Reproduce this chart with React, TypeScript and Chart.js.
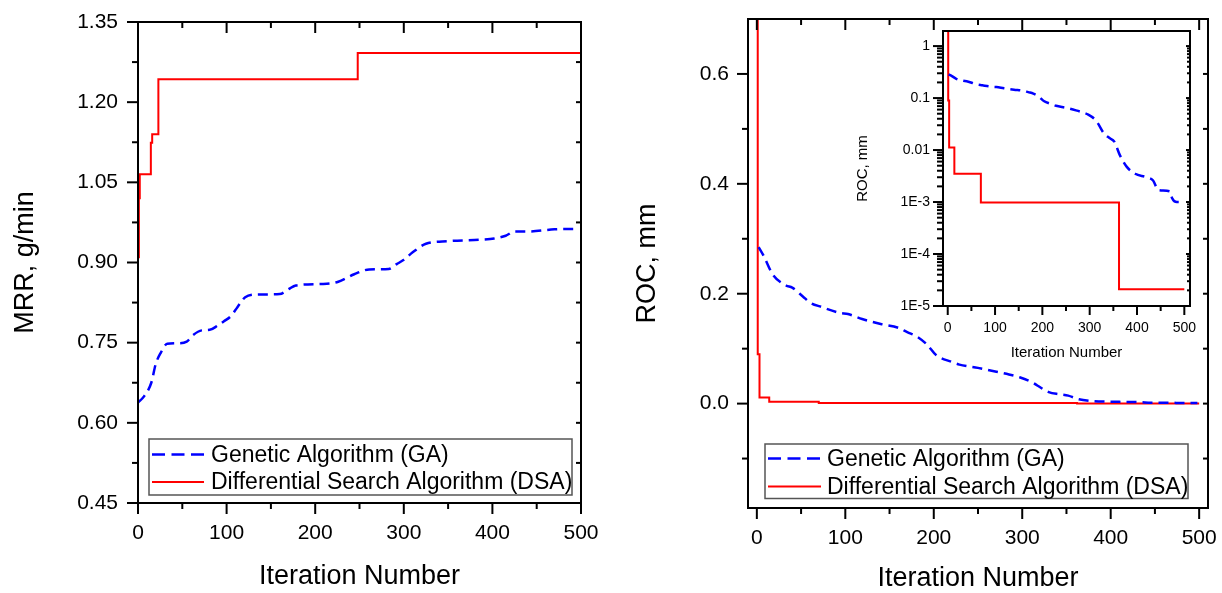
import React, { useEffect, useRef } from 'react';
import { Chart, registerables } from 'chart.js';

Chart.register(...registerables);

const FONT = "'Liberation Sans', Arial, Helvetica, sans-serif";

// ---------- data ----------
const seriesNames = ['Genetic Algorithm (GA)', 'Differential Search Algorithm (DSA)'];

const gaMrrIter = [0, 7, 15, 20, 26, 33, 45, 55, 62, 72, 81, 90, 97, 105, 112, 121, 134, 160, 170, 178, 209, 226, 244, 261, 283, 292, 300, 310, 325, 350, 390, 402, 415, 425, 440, 470, 495];
const gaMrrValue = [0.638, 0.65, 0.675, 0.71, 0.732, 0.748, 0.749, 0.752, 0.764, 0.773, 0.774, 0.782, 0.79, 0.8, 0.816, 0.835, 0.84, 0.841, 0.85, 0.857, 0.86, 0.864, 0.878, 0.887, 0.888, 0.897, 0.905, 0.919, 0.935, 0.94, 0.943, 0.945, 0.95, 0.958, 0.958, 0.962, 0.963];

const dsaMrrIter = [0, 1, 2, 14.5, 16, 23, 248, 500];
const dsaMrrValue = [0.91, 1.02, 1.065, 1.124, 1.14, 1.243, 1.292, 1.292];

const gaRocIter = [2, 8, 18, 33, 40, 52, 60, 73, 94, 103, 119, 140, 160, 170, 181, 192, 203, 220, 229, 250, 271, 285, 297, 311, 317, 330, 342, 352, 364, 378, 396, 420, 434, 445, 470, 474, 484, 498];
const gaRocValue = [0.285, 0.268, 0.235, 0.215, 0.211, 0.195, 0.184, 0.176, 0.165, 0.163, 0.154, 0.145, 0.138, 0.13, 0.122, 0.108, 0.088, 0.076, 0.071, 0.065, 0.058, 0.053, 0.048, 0.039, 0.033, 0.021, 0.017, 0.0145, 0.0079, 0.0048, 0.0035, 0.003, 0.0026, 0.0017, 0.0016, 0.0012, 0.001, 0.001];

const dsaRocIter = [0, 1, 3, 14, 70, 362, 500];
const dsaRocValue = [3, 0.09, 0.0112, 0.0035, 0.00098, 0.000021, 0.000021];

// ---------- tick labels ----------
const iterTicks = [0, 100, 200, 300, 400, 500];
const mrrTicks = [0.45, 0.6, 0.75, 0.9, 1.05, 1.2, 1.35];
const rocTicks = [0, 0.2, 0.4, 0.6];
const rocLogTicks = [1e-5, 1e-4, 1e-3, 0.01, 0.1, 1];
const rocLogLabels = ['1E-5', '1E-4', '1E-3', '0.01', '0.1', '1'];

// ---------- helpers ----------
const mids = (a: number[]) => a.slice(1).map((v, i) => (v + a[i]) / 2);
const iterMinor = mids(iterTicks);
const mrrMinor = mids(mrrTicks);
const rocMinor = [-0.1, 0.1, 0.3, 0.5];
const logMinor: number[] = [];
for (let k = -5; k <= 0; k++) for (let m = 2; m <= 9; m++) logMinor.push(m * Math.pow(10, k));

const pts = (xs: number[], ys: number[]) => xs.map((x, i) => ({ x, y: ys[i] }));

const fixW = (w: number) => (s: any) => {
  s.width = w; s.paddingTop = 0; s.paddingBottom = 0; s.paddingLeft = 0; s.paddingRight = 0;
};
const fixH = (h: number) => (s: any) => {
  s.height = h; s.paddingTop = 0; s.paddingBottom = 0; s.paddingLeft = 0; s.paddingRight = 0;
};
const setTicks = (vals: number[]) => (s: any) => { s.ticks = vals.map(v => ({ value: v })); };

const frameTicks = {
  id: 'frameTicks',
  beforeDraw(chart: any, _a: any, o: any) {
    if (!o || !o.white) return;
    const { ctx, chartArea: a } = chart;
    ctx.save();
    ctx.fillStyle = '#fff';
    ctx.fillRect(a.left, a.top, a.right - a.left, a.bottom - a.top);
    ctx.restore();
  },
  afterDatasetsDraw(chart: any, _a: any, o: any) {
    if (!o || !o.specs) return;
    const { ctx, chartArea: a, scales } = chart;
    ctx.save();
    ctx.strokeStyle = '#000';
    ctx.lineWidth = o.lineWidth || 2;
    ctx.strokeRect(a.left, a.top, a.right - a.left, a.bottom - a.top);
    ctx.lineWidth = o.tickWidth || 2;
    for (const sp of o.specs) {
      const s = scales[sp.scale];
      const groups: [number[], number][] = [[sp.major, sp.majorLen], [sp.minor || [], sp.minorLen]];
      for (const [vals, len] of groups) {
        for (const v of vals) {
          if (v < s.min || v > s.max) continue;
          const p = s.getPixelForValue(v);
          ctx.beginPath();
          if (sp.side === 'bottom') { ctx.moveTo(p, a.bottom); ctx.lineTo(p, a.bottom + len); }
          else if (sp.side === 'top') { ctx.moveTo(p, a.top); ctx.lineTo(p, a.top - len); }
          else if (sp.side === 'left') { ctx.moveTo(a.left, p); ctx.lineTo(a.left - len, p); }
          else { ctx.moveTo(a.right, p); ctx.lineTo(a.right + len, p); }
          ctx.stroke();
        }
      }
    }
    ctx.restore();
  },
  afterDraw(chart: any, _a: any, o: any) {
    const L = o && o.legend;
    if (!L) return;
    const ctx = chart.ctx;
    ctx.save();
    ctx.fillStyle = '#fff';
    ctx.fillRect(L.box[0], L.box[1], L.box[2] - L.box[0], L.box[3] - L.box[1]);
    ctx.strokeStyle = '#555';
    ctx.lineWidth = 1.5;
    ctx.strokeRect(L.box[0], L.box[1], L.box[2] - L.box[0], L.box[3] - L.box[1]);
    chart.data.datasets.forEach((ds: any, i: number) => {
      const y = L.rowY[i];
      ctx.beginPath();
      ctx.setLineDash(ds.borderDash ? L.dash : []);
      ctx.strokeStyle = ds.borderColor;
      ctx.lineWidth = ds.borderWidth;
      ctx.moveTo(L.lineX[0], y);
      ctx.lineTo(L.lineX[1], y);
      ctx.stroke();
      ctx.setLineDash([]);
      ctx.fillStyle = '#000';
      ctx.font = `${L.size}px ${FONT}`;
      ctx.textBaseline = 'middle';
      ctx.textAlign = 'left';
      ctx.fillText(ds.label, L.textX, y + 1);
    });
    ctx.restore();
  },
};

const gaStyle = {
  borderColor: '#0000ff', borderWidth: 2.5, borderDash: [10, 6], pointRadius: 0,
  cubicInterpolationMode: 'monotone' as const, fill: false,
};
const dsaStyle = {
  borderColor: '#ff0000', borderWidth: 2, pointRadius: 0, stepped: 'before' as const, fill: false,
};

const tickFont = (size: number) => ({ family: FONT, size });

function makeLeft(): any {
  return {
    type: 'line',
    data: {
      datasets: [
        { label: seriesNames[0], data: pts(gaMrrIter, gaMrrValue), ...gaStyle },
        { label: seriesNames[1], data: pts(dsaMrrIter, dsaMrrValue), ...dsaStyle },
      ],
    },
    options: {
      animation: false, responsive: false, devicePixelRatio: 1,
      layout: { padding: { left: 0, top: 22, right: 30, bottom: 0 } },
      plugins: {
        legend: { display: false }, tooltip: { enabled: false },
        frameTicks: {
          specs: [
            { scale: 'x', side: 'bottom', major: iterTicks, minor: iterMinor, majorLen: 11, minorLen: 6 },
            { scale: 'x', side: 'top', major: iterTicks, minor: iterMinor, majorLen: -11, minorLen: -6 },
            { scale: 'y', side: 'left', major: mrrTicks, minor: mrrMinor, majorLen: 11, minorLen: 6 },
            { scale: 'y', side: 'right', major: mrrTicks, minor: mrrMinor, majorLen: -5, minorLen: -5 },
          ],
          legend: {
            box: [149, 439, 572, 495], lineX: [152, 204], textX: 211, rowY: [454.5, 482], size: 23, dash: [13, 6.5],
          },
        },
      },
      scales: {
        x: {
          type: 'linear', min: 0, max: 500, bounds: 'data',
          afterBuildTicks: setTicks(iterTicks), afterFit: fixH(90),
          grid: { display: false, drawTicks: false }, border: { display: false },
          ticks: { padding: 18, font: tickFont(21), color: '#000', maxRotation: 0, autoSkip: false, callback: (v: number) => String(v) },
          title: { display: true, text: 'Iteration Number', color: '#000', font: tickFont(27), padding: { top: 0, bottom: 0 } },
        },
        y: {
          type: 'linear', min: 0.45, max: 1.35, bounds: 'data',
          afterBuildTicks: setTicks(mrrTicks), afterFit: fixW(138),
          grid: { display: false, drawTicks: false }, border: { display: false },
          ticks: { padding: 20, font: tickFont(21), color: '#000', autoSkip: false, callback: (v: number) => v.toFixed(2) },
          title: { display: true, text: 'MRR, g/min', color: '#000', font: tickFont(27), padding: { top: 9, bottom: 0 } },
        },
      },
    },
    plugins: [frameTicks],
  };
}

function makeRight(): any {
  return {
    type: 'line',
    data: {
      datasets: [
        { label: seriesNames[0], data: pts(gaRocIter, gaRocValue), ...gaStyle },
        { label: seriesNames[1], data: pts(dsaRocIter, dsaRocValue), ...dsaStyle },
      ],
    },
    options: {
      animation: false, responsive: false, devicePixelRatio: 1,
      layout: { padding: { left: 0, top: 19, right: 14, bottom: 0 } },
      plugins: {
        legend: { display: false }, tooltip: { enabled: false },
        frameTicks: {
          specs: [
            { scale: 'x', side: 'bottom', major: iterTicks, minor: iterMinor, majorLen: 11, minorLen: 6 },
            { scale: 'x', side: 'top', major: iterTicks, minor: iterMinor, majorLen: -11, minorLen: -6 },
            { scale: 'y', side: 'left', major: rocTicks, minor: rocMinor, majorLen: 11, minorLen: 6 },
            { scale: 'y', side: 'right', major: rocTicks, minor: rocMinor, majorLen: -5, minorLen: -5 },
          ],
          legend: {
            box: [154, 444, 577, 498.5], lineX: [157, 210], textX: 216, rowY: [458.5, 486.5], size: 23, dash: [13, 6.5],
          },
        },
      },
      scales: {
        x: {
          type: 'linear', min: -10, max: 510, bounds: 'data',
          afterBuildTicks: setTicks(iterTicks), afterFit: fixH(85),
          grid: { display: false, drawTicks: false }, border: { display: false },
          ticks: { padding: 18, font: tickFont(21), color: '#000', maxRotation: 0, autoSkip: false, callback: (v: number) => String(v) },
          title: { display: true, text: 'Iteration Number', color: '#000', font: tickFont(27), padding: { top: 0, bottom: -2 } },
        },
        y: {
          type: 'linear', min: -0.19, max: 0.7, bounds: 'data',
          afterBuildTicks: setTicks(rocTicks), afterFit: fixW(137),
          grid: { display: false, drawTicks: false }, border: { display: false },
          ticks: { padding: 19, font: tickFont(21), color: '#000', autoSkip: false, callback: (v: number) => v.toFixed(1) },
          title: { display: true, text: 'ROC, mm', color: '#000', font: tickFont(27), padding: { top: 20, bottom: 0 } },
        },
      },
    },
    plugins: [frameTicks],
  };
}

function makeInset(): any {
  return {
    type: 'line',
    data: {
      datasets: [
        { label: seriesNames[0], data: pts(gaRocIter, gaRocValue), ...gaStyle },
        { label: seriesNames[1], data: pts(dsaRocIter, dsaRocValue), ...dsaStyle },
      ],
    },
    options: {
      animation: false, responsive: false, devicePixelRatio: 1,
      layout: { padding: { left: 0, top: 11, right: 32, bottom: 0 } },
      plugins: {
        legend: { display: false }, tooltip: { enabled: false },
        frameTicks: {
          white: true,
          specs: [
            { scale: 'x', side: 'bottom', major: iterTicks, minor: iterMinor, majorLen: 9, minorLen: 5 },
            { scale: 'y', side: 'left', major: rocLogTicks, minor: logMinor, majorLen: 10, minorLen: 6 },
            { scale: 'y', side: 'right', major: rocLogTicks, minor: logMinor, majorLen: -4, minorLen: -3 },
          ],
        },
      },
      scales: {
        x: {
          type: 'linear', min: -10, max: 512, bounds: 'data',
          afterBuildTicks: setTicks(iterTicks), afterFit: fixH(64),
          grid: { display: false, drawTicks: false }, border: { display: false },
          ticks: { padding: 14, font: tickFont(14), color: '#000', maxRotation: 0, autoSkip: false, callback: (v: number) => String(v) },
          title: { display: true, text: 'Iteration Number', color: '#000', font: tickFont(15), padding: { top: 0, bottom: 8 } },
        },
        y: {
          type: 'logarithmic', min: 1e-5, max: 1.95, bounds: 'data',
          afterBuildTicks: setTicks(rocLogTicks), afterFit: fixW(103),
          grid: { display: false, drawTicks: false }, border: { display: false },
          ticks: {
            padding: 13, font: tickFont(14), color: '#000', autoSkip: false,
            callback: (v: number) => {
              const i = rocLogTicks.findIndex(t => Math.abs(Math.log10(t) - Math.log10(v)) < 1e-6);
              return i >= 0 ? rocLogLabels[i] : '';
            },
          },
          title: { display: true, text: 'ROC, mm', color: '#000', font: tickFont(15), padding: { top: 14, bottom: 0 } },
        },
      },
    },
    plugins: [frameTicks],
  };
}

function ChartCanvas(props: { make: () => any; left: number; top: number; width: number; height: number }) {
  const ref = useRef<HTMLCanvasElement | null>(null);
  useEffect(() => {
    if (!ref.current) return;
    const chart = new Chart(ref.current, props.make());
    return () => chart.destroy();
  }, []);
  return (
    <canvas
      ref={ref}
      width={props.width}
      height={props.height}
      style={{ position: 'absolute', left: props.left, top: props.top, width: props.width, height: props.height, display: 'block' }}
    />
  );
}

export default function App() {
  return (
    <div style={{ position: 'absolute', left: 0, top: 0, width: 1222, height: 593, overflow: 'hidden', background: '#fff' }}>
      <ChartCanvas make={makeLeft} left={0} top={0} width={611} height={593} />
      <ChartCanvas make={makeRight} left={611} top={0} width={611} height={593} />
      <ChartCanvas make={makeInset} left={840} top={20} width={382} height={350} />
    </div>
  );
}
